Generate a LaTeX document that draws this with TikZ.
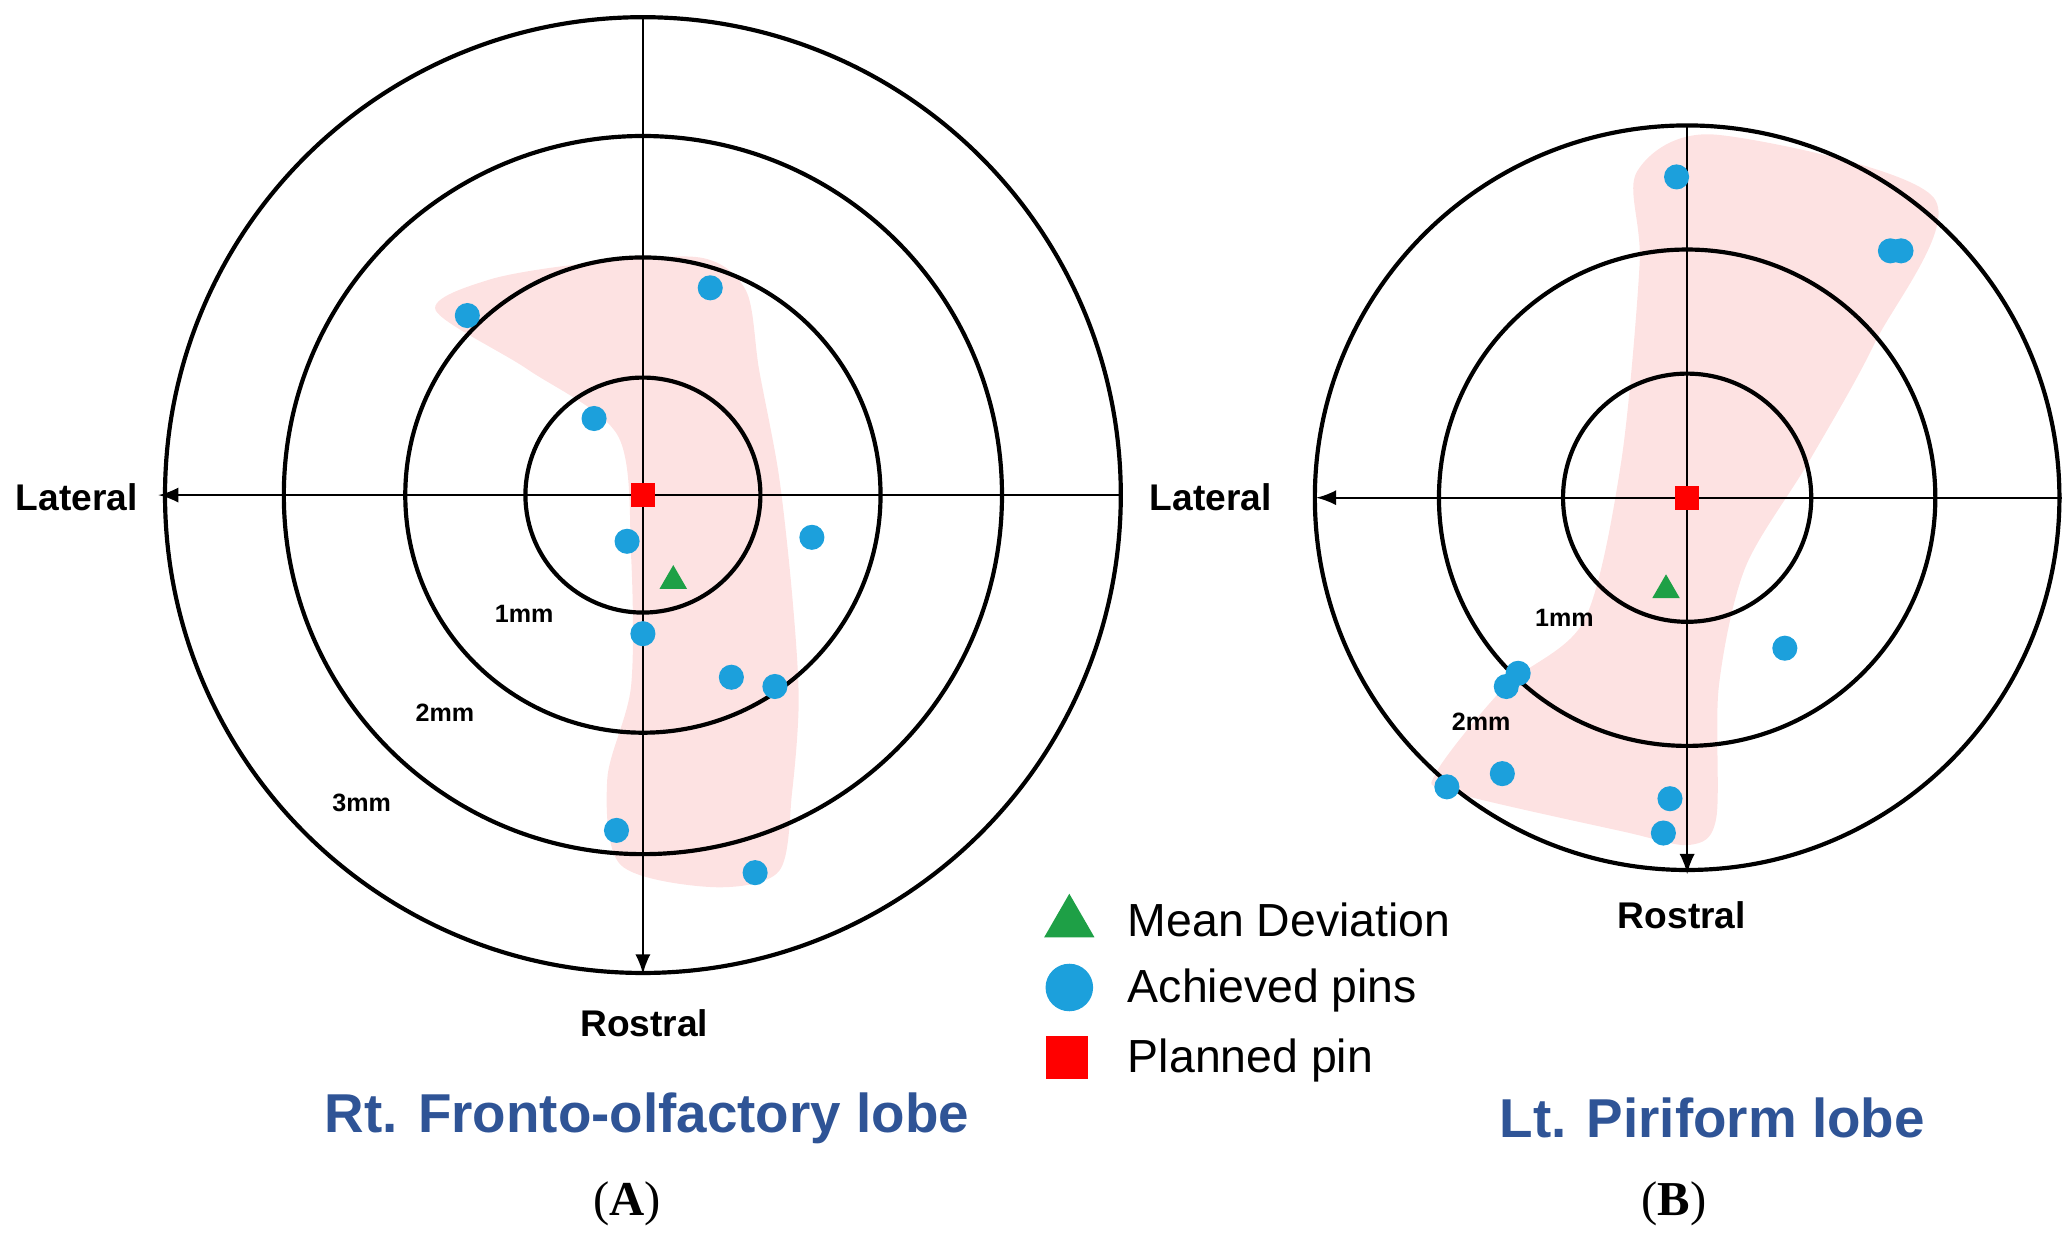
\documentclass[tikz,border=0pt]{standalone}
\usepackage{fontspec}
\usetikzlibrary{shapes.geometric}
\setmainfont{Liberation Serif}
\newfontfamily\mysans{Liberation Sans}
\begin{document}
\begin{tikzpicture}[x=0.01cm,y=-0.01cm,
  ring/.style={line width=0.9pt},
  ax/.style={line width=0.5pt,-latex},
  pin/.style={circle,fill={rgb,255:red,28;green,160;blue,220},draw=none,minimum size=0.19cm,inner sep=0},
  plan/.style={rectangle,fill=red,minimum size=0.18cm,inner sep=0},
  mean/.style={regular polygon,regular polygon sides=3,fill={rgb,255:red,30;green,160;blue,70},minimum size=0.24cm,inner sep=0},
  lbl/.style={font=\mysans\bfseries\fontsize{8}{9}\selectfont},
  mm/.style={font=\mysans\bfseries\fontsize{5.4}{6}\selectfont},
  ttl/.style={font=\mysans\bfseries\fontsize{11.8}{14}\selectfont,text={rgb,255:red,47;green,84;blue,150}},
  leg/.style={font=\mysans\fontsize{10}{12}\selectfont,anchor=west}]
\useasboundingbox (0,0) rectangle (1568,938);
\definecolor{pinkf}{RGB}{253,226,226}
% Left pink region
\fill[pinkf] plot[smooth cycle,tension=0.5] coordinates {(330,235)(370,212)(440,200)(530,195)(565,220)(575,280)(590,360)(600,450)(605,530)(600,600)(590,660)(540,672)(470,655)(460,590)(478,520)(478,420)(468,330)(400,280)};
% Right pink region
\fill[pinkf] plot[smooth cycle,tension=0.5] coordinates {(1240,130)(1300,102)(1465,150)(1420,260)(1370,350)(1322,430)(1302,520)(1300,620)(1280,640)(1230,630)(1100,600)(1088,585)(1140,520)(1200,470)(1228,350)(1242,200)};
% Left target
\coordinate (cA) at (487,375);
\foreach \r in {89,180,272,362} \draw[ring] (cA) circle (\r);
\coordinate (aR) at (850,375); \coordinate (aL) at (120,375);
\coordinate (aT) at (487,12); \coordinate (aB) at (487,738);
\draw[ax] (aR) -- (aL);
\draw[ax] (aT) -- (aB);
\node[lbl] (latA) at (58,377) {Lateral};
\node[lbl] (rosA) at (488,775) {Rostral};
\node[mm] (m1A) at (397,465) {1mm};
\node[mm] (m2A) at (337,540) {2mm};
\node[mm] (m3A) at (274,608) {3mm};
\foreach \p [count=\i] in {(354,239),(538,218),(450,317),(475,410),(615,407),(487,480),(554,513),(587,520),(467,629),(572,661)}
  \node[pin] (pA\i) at \p {};
\node[mean] (meanA) at (510,440) {};
\node[plan] (planA) at (cA) {};
% Right target
\coordinate (cB) at (1278,377);
\foreach \r in {94,188,282} \draw[ring] (cB) circle (\r);
\coordinate (bR) at (1562,377); \coordinate (bL) at (997,377);
\coordinate (bT) at (1278,96); \coordinate (bB) at (1278,662);
\draw[ax] (bR) -- (bL);
\draw[ax] (bT) -- (bB);
\node[lbl] (latB) at (917,377) {Lateral};
\node[lbl] (rosB) at (1274,693) {Rostral};
\node[mm] (m1B) at (1185,468) {1mm};
\node[mm] (m2B) at (1122,547) {2mm};
\foreach \p [count=\i] in {(1270,134),(1432,190),(1440,190),(1352,491),(1150,510),(1141,520),(1138,586),(1096,596),(1265,605),(1260,631)}
  \node[pin] (pB\i) at \p {};
\node[mean] (meanB) at (1262,447) {};
\node[plan] (planB) at (cB) {};
% Legend
\node[mean,minimum size=0.44cm] (lg1) at (810,699) {};
\node[leg] (lt1) at (842,697) {Mean Deviation};
\node[pin,minimum size=0.36cm] (lg2) at (810,748) {};
\node[leg] (lt2) at (842,750) {Achieved pins};
\node[plan,minimum size=0.32cm] (lg3) at (808,801) {};
\node[leg] (lt3) at (842,803) {Planned pin};
% Titles
\node[ttl] (tA) at (490,847) {Rt. Fronto-olfactory lobe};
\node[ttl] (tB) at (1297,847) {Lt. Piriform lobe};
\node[font=\fontsize{10.5}{12}\selectfont] (A) at (475,912) {(\textbf{A})};
\node[font=\fontsize{10.5}{12}\selectfont] (B) at (1268,912) {(\textbf{B})};
\end{tikzpicture}
\end{document}
